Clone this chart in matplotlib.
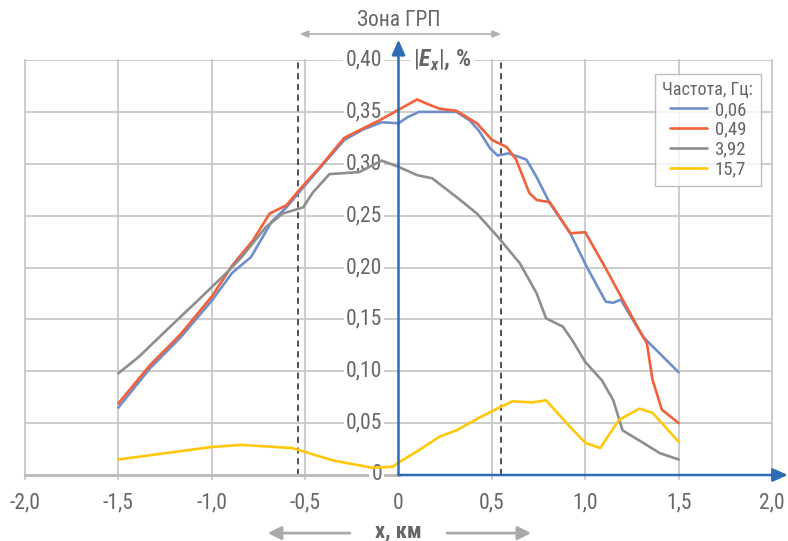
import matplotlib
matplotlib.use("Agg")
import matplotlib.pyplot as plt
from matplotlib import font_manager

# ---------------- data ----------------
x_006 = [-1.5, -1.33, -1.17, -1.0, -0.89, -0.79, -0.68, -0.60, -0.53, -0.42, -0.29, -0.19, -0.09,
         0.0, 0.05, 0.11, 0.22, 0.31, 0.38, 0.43, 0.49, 0.53, 0.59, 0.685, 0.74, 0.81, 0.92, 1.01,
         1.11, 1.15, 1.19, 1.31, 1.5]
y_006 = [0.065, 0.103, 0.132, 0.168, 0.195, 0.210, 0.244, 0.258, 0.273, 0.296, 0.323, 0.333, 0.340,
         0.339, 0.345, 0.350, 0.350, 0.350, 0.342, 0.332, 0.315, 0.308, 0.310, 0.304, 0.287, 0.262,
         0.233, 0.200, 0.167, 0.166, 0.169, 0.133, 0.099]

x_049 = [-1.5, -1.33, -1.17, -1.0, -0.89, -0.78, -0.69, -0.60, -0.53, -0.42, -0.29, -0.09, 0.0,
         0.10, 0.15, 0.22, 0.31, 0.42, 0.50, 0.58, 0.63, 0.70, 0.74, 0.81, 0.92, 1.0, 1.11, 1.27,
         1.33, 1.36, 1.41, 1.5]
y_049 = [0.069, 0.106, 0.135, 0.172, 0.202, 0.226, 0.252, 0.260, 0.275, 0.297, 0.325, 0.343, 0.352,
         0.362, 0.358, 0.353, 0.351, 0.339, 0.323, 0.316, 0.304, 0.272, 0.265, 0.263, 0.233, 0.234,
         0.199, 0.146, 0.127, 0.092, 0.063, 0.050]

x_392 = [-1.5, -1.39, -1.24, -1.07, -0.92, -0.84, -0.71, -0.62, -0.51, -0.46, -0.37, -0.21, -0.09,
         0.0, 0.10, 0.18, 0.31, 0.42, 0.53, 0.65, 0.74, 0.79, 0.88, 0.93, 1.0, 1.09, 1.15, 1.20,
         1.31, 1.40, 1.5]
y_392 = [0.098, 0.114, 0.140, 0.169, 0.195, 0.210, 0.239, 0.252, 0.258, 0.272, 0.290, 0.292, 0.303,
         0.297, 0.289, 0.286, 0.268, 0.252, 0.230, 0.204, 0.175, 0.151, 0.143, 0.130, 0.109, 0.091,
         0.072, 0.043, 0.031, 0.021, 0.015]

x_157 = [-1.5, -1.0, -0.84, -0.57, -0.35, -0.14, -0.03, 0.0, 0.11, 0.22, 0.31, 0.43, 0.54, 0.61,
         0.72, 0.79, 0.90, 1.0, 1.08, 1.18, 1.29, 1.36, 1.5]
y_157 = [0.015, 0.027, 0.029, 0.026, 0.014, 0.007, 0.008, 0.012, 0.024, 0.037, 0.043, 0.055, 0.065,
         0.071, 0.070, 0.072, 0.050, 0.031, 0.026, 0.053, 0.064, 0.060, 0.032]

series_labels = ["0,06", "0,49", "3,92", "15,7"]
series_colors = ["#6f8fcb", "#f2603c", "#8e8e8e", "#ffc80a"]

x_ticks = [-2.0, -1.5, -1.0, -0.5, 0.0, 0.5, 1.0, 1.5, 2.0]
x_tick_labels = ["-2,0", "-1,5", "-1,0", "-0,5", "0", "0,5", "1,0", "1,5", "2,0"]
y_ticks = [0.0, 0.05, 0.10, 0.15, 0.20, 0.25, 0.30, 0.35, 0.40]
y_tick_labels = ["0", "0,05", "0,10", "0,15", "0,20", "0,25", "0,30", "0,35", "0,40"]

zone_edges = [-0.54, 0.55]

# ---------------- fonts ----------------
names = {f.name for f in font_manager.fontManager.ttflist}
if "Roboto Condensed" in names:
    FONT = "Roboto Condensed"
elif "Liberation Sans Narrow" in names:
    FONT = "Liberation Sans Narrow"
else:
    FONT = "DejaVu Sans"
    plt.rcParams["font.stretch"] = "condensed"
plt.rcParams["font.family"] = [FONT, "DejaVu Sans"]
plt.rcParams["mathtext.fontset"] = "custom"
plt.rcParams["mathtext.bfit"] = f"{FONT}:italic:bold"
plt.rcParams["mathtext.rm"] = FONT

TXT = "#666666"
BLUE = "#2e6db4"
GRID = "#c4c4c4"

fig = plt.figure(figsize=(7.88, 5.41), dpi=100)
ax = fig.add_axes([25 / 788, 66 / 541, 747 / 788, 415 / 541])
ax.set_xlim(-2, 2)
ax.set_ylim(0, 0.40)
for s in ax.spines.values():
    s.set_visible(False)
ax.set_xticks([])
ax.set_yticks([])

# grid
for xv in x_ticks:
    if xv == 0:
        continue
    ax.plot([xv, xv], [-0.004, 0.40], color=GRID, lw=1.2, clip_on=False, zorder=1)
for yv in y_ticks[1:]:
    ax.plot([-2, 2], [yv, yv], color=GRID, lw=1.2, zorder=1)

# zone dashed lines
for xv in zone_edges:
    ax.plot([xv, xv], [0, 0.40], color="#222222", lw=1.1, ls=(0, (4, 3)), zorder=2)

# series
for xs, ys, lab, col in zip([x_006, x_049, x_392, x_157], [y_006, y_049, y_392, y_157],
                            series_labels, series_colors):
    ax.plot(xs, ys, color=col, lw=1.9, label=lab, zorder=5, solid_joinstyle="round",
            solid_capstyle="round")

# axes lines
ax.plot([-2, 0], [0, 0], color="#bdbdbd", lw=2.2, zorder=2, clip_on=False)
ax.annotate("", xy=(2.085, 0), xytext=(0, 0), xycoords="data",
            arrowprops=dict(arrowstyle="-|>,head_length=0.9,head_width=0.4", color=BLUE, lw=1.8,
                            shrinkA=0, shrinkB=0), zorder=6, annotation_clip=False)
ax.annotate("", xy=(0, 0.4195), xytext=(0, 0), xycoords="data",
            arrowprops=dict(arrowstyle="-|>,head_length=0.9,head_width=0.4", color=BLUE, lw=1.8,
                            shrinkA=0, shrinkB=0), zorder=6, annotation_clip=False)

# y tick labels (behind the curves, above the grid)
for yv, lab in zip(y_ticks, y_tick_labels):
    ax.text(-0.088, yv, lab, ha="right", va="center", fontsize=15.5, color=TXT,
            bbox=dict(facecolor="white", edgecolor="none", pad=1.5), zorder=3, clip_on=False)

# x tick labels
for xv, lab in zip(x_ticks, x_tick_labels):
    ax.text(xv, -0.027, lab, ha="center", va="center", fontsize=15.5, color=TXT, clip_on=False)

# y axis label
ax.text(0.075, 0.40, r"$|\mathbfit{E}_{\mathbfit{x}}|$, %", ha="left", va="center",
        fontsize=17, color=TXT, fontweight="bold",
        bbox=dict(facecolor="white", edgecolor="none", pad=2), zorder=3, clip_on=False)

# x axis label with arrows
ax.text(0, -0.0545, "x, км", ha="center", va="center", fontsize=16, fontweight="bold",
        color=TXT, clip_on=False)
for x0, x1 in [(-0.26, -0.70), (0.26, 0.71)]:
    ax.annotate("", xy=(x1, -0.056), xytext=(x0, -0.056), xycoords="data",
                arrowprops=dict(arrowstyle="-|>,head_length=0.8,head_width=0.4", color="#aaaaaa",
                                lw=2.0, shrinkA=0, shrinkB=0), annotation_clip=False)

# zone label
ax.text(0, 0.4385, "Зона ГРП", ha="center", va="center", fontsize=15.5, color=TXT, clip_on=False)
ax.annotate("", xy=(zone_edges[0] + 0.01, 0.425), xytext=(zone_edges[1], 0.425), xycoords="data",
            arrowprops=dict(arrowstyle="<|-|>,head_length=0.5,head_width=0.2", color="#b0b0b0",
                            lw=1.2, shrinkA=0, shrinkB=0), annotation_clip=False)

# legend
leg = ax.legend(title="Частота, Гц:", loc="upper right", bbox_to_anchor=(0.9975, 0.99),
                fontsize=13.5, title_fontsize=13, frameon=True, fancybox=False,
                handlelength=2.0, handletextpad=0.4, labelspacing=0.1, borderpad=0.4,
                labelcolor=TXT)
leg.get_frame().set_edgecolor("#b0b0b0")
leg.get_frame().set_linewidth(1.0)
leg.get_title().set_color(TXT)
leg.set_zorder(7)

fig.savefig("out.png", dpi=100)
